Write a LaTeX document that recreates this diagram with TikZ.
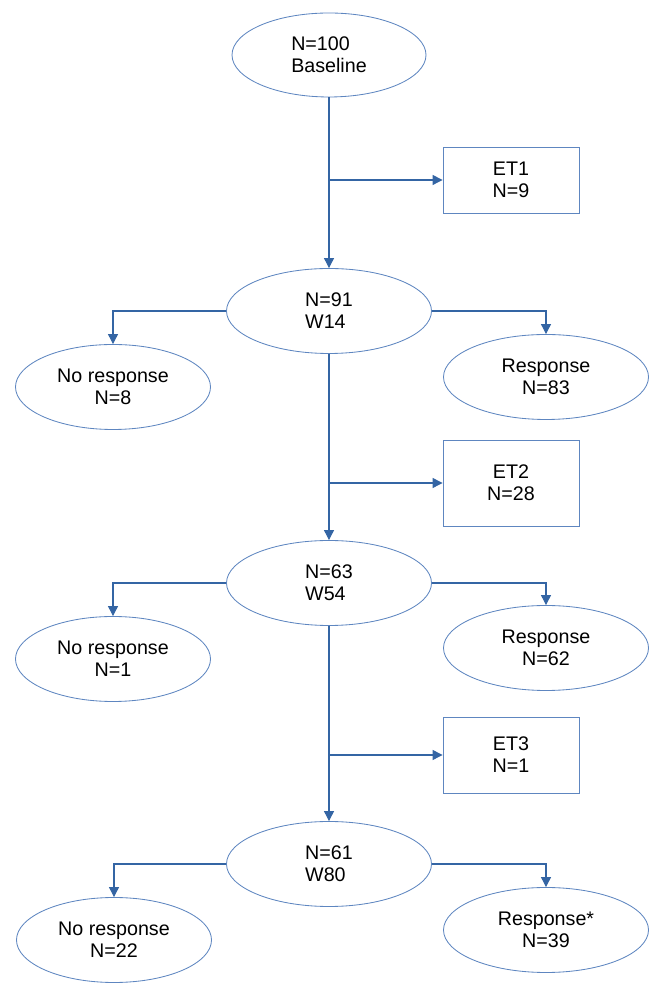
\documentclass[tikz,border=0pt]{standalone}
\usepackage{fontspec}
\setmainfont{Liberation Sans}
\usepackage{tikz}
\usetikzlibrary{shapes.geometric,arrows.meta}
\definecolor{flowblue}{RGB}{52,101,164}
\definecolor{edgeblue}{RGB}{94,134,192}

\begin{document}
\begin{tikzpicture}[
  every node/.style={font=\fontsize{14}{15.6}\selectfont},
  stage/.style={ellipse, draw=edgeblue, line width=0.6pt, inner sep=0pt,
                minimum width=5.125cm, minimum height=2.125cm, align=left},
  outcome/.style={ellipse, draw=edgeblue, line width=0.6pt, inner sep=0pt,
                minimum width=4.875cm, minimum height=2.125cm, align=center},
  exitbox/.style={draw=edgeblue, line width=0.6pt, inner sep=0pt,
                minimum width=3.4cm, align=center},
  arr/.style={draw=flowblue, line width=0.75pt, -{Triangle[length=2.5mm, width=2.5mm]}}
]
\useasboundingbox (0,0) rectangle (16.4,25);

% main column
\node[stage, minimum width=4.85cm, minimum height=2.1cm] (base) at (8.225,23.625) {N=100\\Baseline};
\node[stage] (w14) at (8.225,17.225) {N=91\\W14};
\node[stage] (w54) at (8.225,10.425) {N=63\\W54};
\node[stage] (w80) at (8.225,3.4) {N=61\\W80};

% early terminations
\node[exitbox, minimum height=1.65cm] (et1) at (12.775,20.5) {ET1\\N=9};
\node[exitbox, minimum height=2.15cm] (et2) at (12.775,12.925) {ET2\\N=28};
\node[exitbox, minimum height=1.9cm] (et3) at (12.775,6.125) {ET3\\N=1};

% outcomes
\node[outcome] (nr8) at (2.825,15.325) {No response\\N=8};
\node[outcome, minimum width=5.125cm] (r83) at (13.65,15.575) {Response\\N=83};
\node[outcome] (nr1) at (2.825,8.525) {No response\\N=1};
\node[outcome, minimum width=5.125cm] (r62) at (13.65,8.8) {Response\\N=62};
\node[outcome] (nr22) at (2.85,1.5) {No response\\N=22};
\node[outcome, minimum width=5.125cm] (r39) at (13.65,1.75) {Response*\\N=39};

\foreach \a/\b/\e in {base/w14/et1, w14/w54/et2, w54/w80/et3} {
  \draw[arr] (\a) -- (\b);
  \draw[arr] (\a |- \e) -- (\e);
}

\foreach \s/\l/\r in {w14/nr8/r83, w54/nr1/r62, w80/nr22/r39} {
  \draw[arr] (\s.west) -| (\l);
  \draw[arr] (\s.east) -| (\r);
}
\end{tikzpicture}
\end{document}
